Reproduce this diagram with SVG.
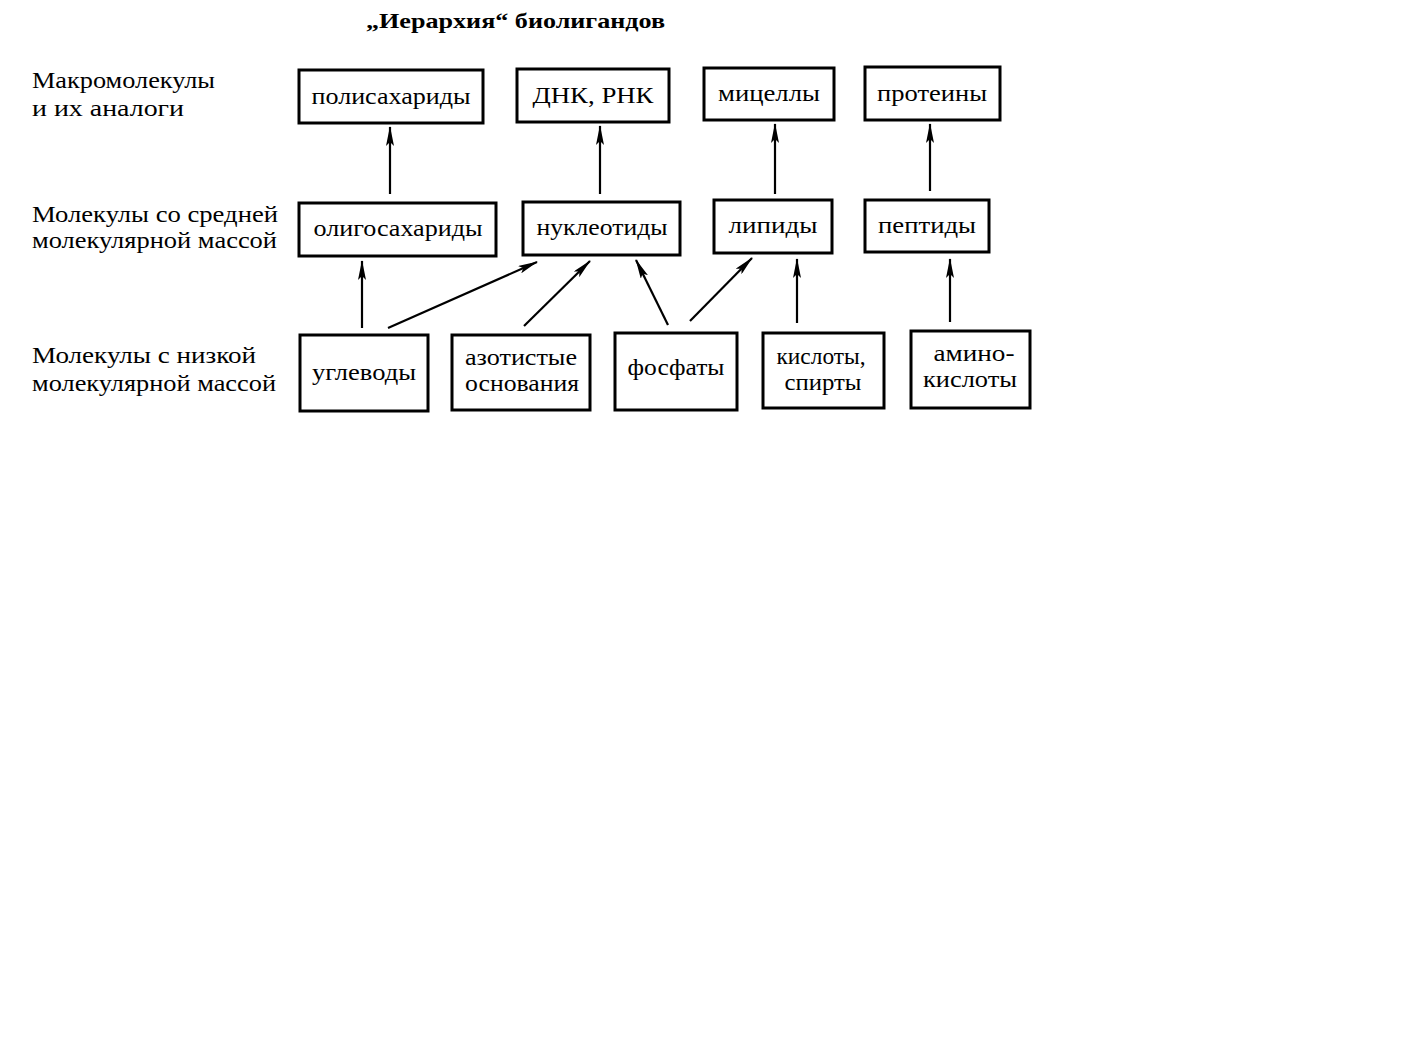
<svg xmlns="http://www.w3.org/2000/svg" width="1405" height="1060" viewBox="0 0 1405 1060">
<defs>
<marker id="ah" viewBox="0 0 20 8" refX="19" refY="4" markerWidth="20" markerHeight="8" markerUnits="userSpaceOnUse" orient="auto">
<path d="M0,0 L20,4 L0,8 L4,4 Z" fill="#000"/>
</marker>
</defs>
<style>
text{font-family:"Liberation Serif","DejaVu Serif",serif;fill:#000}
.t{font-size:23px;text-anchor:middle}
.l{font-size:23px}
.h{font-size:22px;font-weight:bold}
rect{fill:#fff;stroke:#000;stroke-width:3}
.c line{stroke:#000;stroke-width:2.2;marker-end:url(#ah)}
</style>
<rect x="0" y="0" width="1405" height="1060" style="stroke:none"/>
<text class="h" x="366" y="28" textLength="299" lengthAdjust="spacingAndGlyphs">„Иерархия“  биолигандов</text>
<g id="labels">
<text class="l" x="32" y="88" textLength="183" lengthAdjust="spacingAndGlyphs">Макромолекулы</text>
<text class="l" x="32" y="116" textLength="152" lengthAdjust="spacingAndGlyphs">и их  аналоги</text>
<text class="l" x="32" y="222" textLength="246" lengthAdjust="spacingAndGlyphs">Молекулы со средней</text>
<text class="l" x="32" y="248" textLength="245" lengthAdjust="spacingAndGlyphs">молекулярной массой</text>
<text class="l" x="32" y="363" textLength="224" lengthAdjust="spacingAndGlyphs">Молекулы с низкой</text>
<text class="l" x="32" y="391" textLength="244" lengthAdjust="spacingAndGlyphs">молекулярной массой</text>
</g>
<g id="n-polysaccharides"><rect x="299" y="70" width="184" height="53"/><text class="t" x="391" y="104" textLength="159" lengthAdjust="spacingAndGlyphs">полисахариды</text></g>
<g id="n-dna"><rect x="517" y="69" width="152" height="53"/><text class="t" x="593" y="103" textLength="121" lengthAdjust="spacingAndGlyphs">ДНК, РНК</text></g>
<g id="n-micelles"><rect x="704" y="68" width="130" height="52"/><text class="t" x="769" y="101" textLength="102" lengthAdjust="spacingAndGlyphs">мицеллы</text></g>
<g id="n-proteins"><rect x="865" y="67" width="135" height="53"/><text class="t" x="932" y="101" textLength="110" lengthAdjust="spacingAndGlyphs">протеины</text></g>
<g id="n-oligo"><rect x="299" y="203" width="197" height="53"/><text class="t" x="398" y="236" textLength="169" lengthAdjust="spacingAndGlyphs">олигосахариды</text></g>
<g id="n-nucleotides"><rect x="523" y="202" width="157" height="53"/><text class="t" x="602" y="235" textLength="131" lengthAdjust="spacingAndGlyphs">нуклеотиды</text></g>
<g id="n-lipids"><rect x="714" y="200" width="118" height="53"/><text class="t" x="773" y="233" textLength="89" lengthAdjust="spacingAndGlyphs">липиды</text></g>
<g id="n-peptides"><rect x="865" y="200" width="124" height="52"/><text class="t" x="927" y="233" textLength="98" lengthAdjust="spacingAndGlyphs">пептиды</text></g>
<g id="n-carbs"><rect x="300" y="335" width="128" height="76"/><text class="t" x="364" y="380" textLength="104" lengthAdjust="spacingAndGlyphs">углеводы</text></g>
<g id="n-bases"><rect x="452" y="335" width="138" height="75"/><text class="t" x="521" y="365" textLength="112" lengthAdjust="spacingAndGlyphs">азотистые</text><text class="t" x="522" y="391" textLength="114" lengthAdjust="spacingAndGlyphs">основания</text></g>
<g id="n-phosphates"><rect x="615" y="333" width="122" height="77"/><text class="t" x="676" y="375" textLength="97" lengthAdjust="spacingAndGlyphs">фосфаты</text></g>
<g id="n-acids"><rect x="763" y="333" width="121" height="75"/><text class="t" x="821" y="364" textLength="89" lengthAdjust="spacingAndGlyphs">кислоты,</text><text class="t" x="823" y="390" textLength="77" lengthAdjust="spacingAndGlyphs">спирты</text></g>
<g id="n-amino"><rect x="911" y="331" width="119" height="77"/><text class="t" x="974" y="361" textLength="81" lengthAdjust="spacingAndGlyphs">амино-</text><text class="t" x="970" y="387" textLength="94" lengthAdjust="spacingAndGlyphs">кислоты</text></g>
<g class="c" id="connectors">
<line x1="390" y1="194" x2="390" y2="127"/>
<line x1="600" y1="194" x2="600" y2="126"/>
<line x1="775" y1="194" x2="775" y2="124"/>
<line x1="930" y1="191" x2="930" y2="124"/>
<line x1="362" y1="328" x2="362" y2="261"/>
<line x1="388" y1="328" x2="537" y2="262"/>
<line x1="524" y1="326" x2="590" y2="261"/>
<line x1="668" y1="325" x2="636" y2="260"/>
<line x1="690" y1="321" x2="752" y2="258"/>
<line x1="797" y1="323" x2="797" y2="259"/>
<line x1="950" y1="322" x2="950" y2="259"/>
</g>
</svg>
